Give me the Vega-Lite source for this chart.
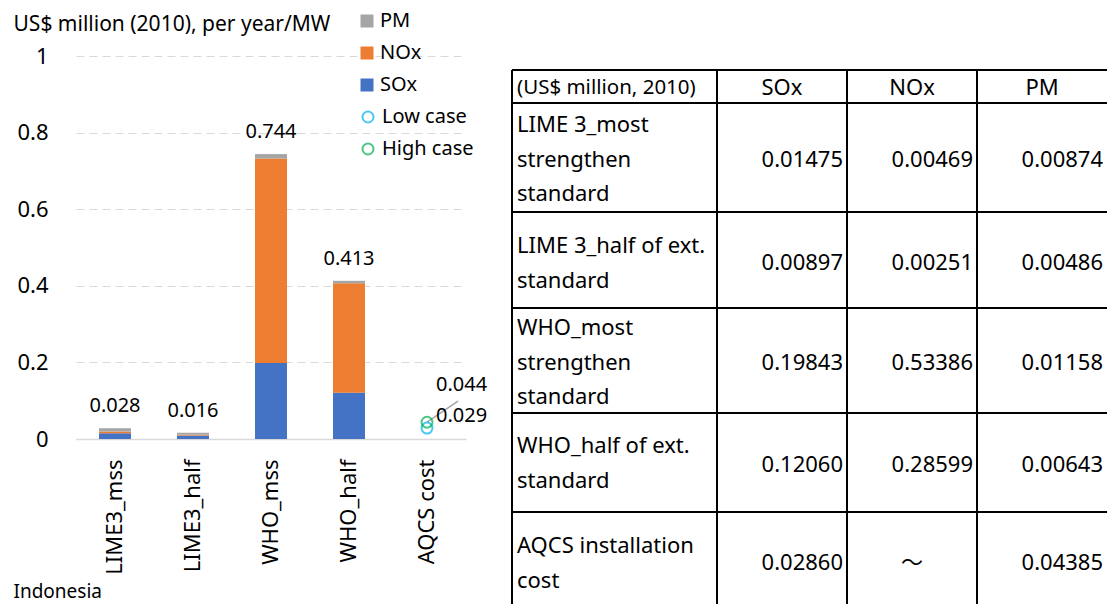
{
  "$schema": "https://vega.github.io/schema/vega-lite/v6.json",
  "background": "white",
  "padding": {"left": 13, "top": 11, "right": 0, "bottom": 0},
  "datasets": {
    "bars": [
      {"category": "LIME3_mss", "pollutant": "SOx", "value": 0.01475},
      {"category": "LIME3_mss", "pollutant": "NOx", "value": 0.00469},
      {"category": "LIME3_mss", "pollutant": "PM", "value": 0.00874},
      {"category": "LIME3_half", "pollutant": "SOx", "value": 0.00897},
      {"category": "LIME3_half", "pollutant": "NOx", "value": 0.00251},
      {"category": "LIME3_half", "pollutant": "PM", "value": 0.00486},
      {"category": "WHO_mss", "pollutant": "SOx", "value": 0.19843},
      {"category": "WHO_mss", "pollutant": "NOx", "value": 0.53386},
      {"category": "WHO_mss", "pollutant": "PM", "value": 0.01158},
      {"category": "WHO_half", "pollutant": "SOx", "value": 0.1206},
      {"category": "WHO_half", "pollutant": "NOx", "value": 0.28599},
      {"category": "WHO_half", "pollutant": "PM", "value": 0.00643}
    ],
    "pollutants": [
      {"pollutant": "SOx", "stackRank": 1},
      {"pollutant": "NOx", "stackRank": 2},
      {"pollutant": "PM", "stackRank": 3}
    ],
    "cases": [
      {"category": "AQCS cost", "scenario": "Low case", "value": 0.0286},
      {"category": "AQCS cost", "scenario": "High case", "value": 0.04385}
    ],
    "table": [
      {"row": "head", "col": "label", "text": "(US$ million, 2010)"},
      {"row": "head", "col": "SOx", "text": "SOx"},
      {"row": "head", "col": "NOx", "text": "NOx"},
      {"row": "head", "col": "PM", "text": "PM"},
      {"row": "r1", "col": "label", "text": "LIME 3_most\nstrengthen\nstandard"},
      {"row": "r1", "col": "SOx", "text": "0.01475"},
      {"row": "r1", "col": "NOx", "text": "0.00469"},
      {"row": "r1", "col": "PM", "text": "0.00874"},
      {"row": "r2", "col": "label", "text": "LIME 3_half of ext.\nstandard"},
      {"row": "r2", "col": "SOx", "text": "0.00897"},
      {"row": "r2", "col": "NOx", "text": "0.00251"},
      {"row": "r2", "col": "PM", "text": "0.00486"},
      {"row": "r3", "col": "label", "text": "WHO_most\nstrengthen\nstandard"},
      {"row": "r3", "col": "SOx", "text": "0.19843"},
      {"row": "r3", "col": "NOx", "text": "0.53386"},
      {"row": "r3", "col": "PM", "text": "0.01158"},
      {"row": "r4", "col": "label", "text": "WHO_half of ext.\nstandard"},
      {"row": "r4", "col": "SOx", "text": "0.12060"},
      {"row": "r4", "col": "NOx", "text": "0.28599"},
      {"row": "r4", "col": "PM", "text": "0.00643"},
      {"row": "r5", "col": "label", "text": "AQCS installation\ncost"},
      {"row": "r5", "col": "SOx", "text": "0.02860"},
      {"row": "r5", "col": "NOx", "text": "～"},
      {"row": "r5", "col": "PM", "text": "0.04385"}
    ]
  },
  "hconcat": [
    {
      "width": 390,
      "height": 383,
      "layer": [
        {
          "data": {"name": "bars"},
          "transform": [{"lookup": "pollutant", "from": {"data": {"name": "pollutants"}, "key": "pollutant", "fields": ["stackRank"]}}],
          "mark": {"type": "bar"},
          "encoding": {
            "x": {
              "field": "category", "type": "nominal",
              "sort": ["LIME3_mss", "LIME3_half", "WHO_mss", "WHO_half", "AQCS cost"],
              "scale": {"domain": ["LIME3_mss", "LIME3_half", "WHO_mss", "WHO_half", "AQCS cost"], "paddingInner": 0.59, "paddingOuter": 0.295},
              "axis": {
                "title": "Indonesia", "titleX": -63, "titleY": 158, "titleAlign": "left", "titleAnchor": "start",
                "titleBaseline": "alphabetic", "titleFontSize": 19, "titleFontWeight": "normal",
                "labelAngle": 270, "labelAlign": "right", "labelBaseline": "middle", "labelFontSize": 22,
                "labelPadding": 20, "ticks": false, "tickSize": 0, "domainColor": "#D9D9D9", "domainWidth": 1.5, "grid": false
              }
            },
            "y": {
              "field": "value", "type": "quantitative", "stack": "zero",
              "scale": {"domain": [0, 1]},
              "axis": {
                "title": "US$ million (2010), per year/MW", "titleAngle": 0, "titleX": -63, "titleY": -26,
                "titleAlign": "left", "titleBaseline": "alphabetic", "titleFontSize": 21, "titleFontWeight": "normal",
                "values": [0, 0.2, 0.4, 0.6, 0.8, 1], "format": "~g", "labelFontSize": 22, "labelPadding": 28,
                "ticks": false, "tickSize": 0, "domain": false, "grid": true, "gridColor": "#D9D9D9", "gridDash": [8, 5], "gridWidth": 1
              }
            },
            "fill": {
              "field": "pollutant", "type": "nominal",
              "scale": {"domain": ["PM", "NOx", "SOx"], "range": ["#A5A5A5", "#ED7D31", "#4472C4"]},
              "legend": {
                "orient": "none", "legendX": 281, "legendY": -45, "title": null, "symbolType": "square",
                "symbolSize": 169, "labelFontSize": 20, "labelOffset": 3, "rowPadding": 12, "padding": 0, "labelColor": "#000"
              }
            },
            "order": {"field": "stackRank", "type": "quantitative", "sort": "ascending"}
          }
        },
        {
          "data": {"name": "bars"},
          "mark": {"type": "text", "baseline": "middle", "dy": -22, "fontSize": 20, "color": "#000"},
          "encoding": {
            "x": {"field": "category", "type": "nominal"},
            "y": {"aggregate": "sum", "field": "value", "type": "quantitative"},
            "text": {"aggregate": "sum", "field": "value", "type": "quantitative", "format": ".3f"}
          }
        },
        {
          "data": {"name": "cases"},
          "transform": [{"filter": {"field": "scenario", "equal": "High case"}}],
          "mark": {"type": "rule", "color": "#A5A5A5", "strokeWidth": 1.5, "x2Offset": 31, "y2Offset": -21},
          "encoding": {
            "x": {"field": "category", "type": "nominal"},
            "x2": {"field": "category"},
            "y": {"field": "value", "type": "quantitative"},
            "y2": {"field": "value"}
          }
        },
        {
          "data": {"name": "cases"},
          "mark": {"type": "point", "shape": "circle", "filled": false, "size": 120, "strokeWidth": 2},
          "encoding": {
            "x": {"field": "category", "type": "nominal"},
            "y": {"field": "value", "type": "quantitative"},
            "stroke": {
              "field": "scenario", "type": "nominal",
              "scale": {"domain": ["Low case", "High case"], "range": ["#00B0F0", "#00B050"]},
              "legend": {
                "orient": "none", "legendX": 282, "legendY": 51, "title": null, "symbolType": "circle",
                "symbolSize": 120, "symbolStrokeWidth": 2, "labelFontSize": 20, "labelOffset": 4, "rowPadding": 12, "padding": 0, "labelColor": "#000"
              }
            }
          }
        },
        {
          "data": {"name": "cases"},
          "transform": [{"filter": {"field": "scenario", "equal": "Low case"}}],
          "mark": {"type": "text", "align": "left", "baseline": "middle", "dx": 9, "dy": -12, "fontSize": 20, "color": "#000"},
          "encoding": {
            "x": {"field": "category", "type": "nominal"},
            "y": {"field": "value", "type": "quantitative"},
            "text": {"field": "value", "type": "quantitative", "format": ".3f"}
          }
        },
        {
          "data": {"name": "cases"},
          "transform": [{"filter": {"field": "scenario", "equal": "High case"}}],
          "mark": {"type": "text", "align": "left", "baseline": "middle", "dx": 9, "dy": -37, "fontSize": 20, "color": "#000"},
          "encoding": {
            "x": {"field": "category", "type": "nominal"},
            "y": {"field": "value", "type": "quantitative"},
            "text": {"field": "value", "type": "quantitative", "format": ".3f"}
          }
        }
      ]
    },
    {
      "spacing": 0,
      "bounds": "flush",
      "vconcat": [
        {"width": 595, "height": 14, "data": {"values": [{}]}, "mark": {"type": "text"}, "encoding": {}},
        {
          "width": 595, "height": 33, "data": {"name": "table"},
          "transform": [{"filter": {"field": "row", "equal": "head"}}],
          "resolve": {"scale": {"x": "independent"}},
          "layer": [
            {"transform": [{"filter": {"field": "col", "equal": "label"}}],
             "mark": {"type": "text", "align": "left", "baseline": "middle", "dx": -97.5, "dy": 1, "fontSize": 20.5, "color": "#000"},
             "encoding": {"x": {"field": "col", "type": "nominal", "axis": null, "scale": {"domain": ["label"], "range": [0, 205], "paddingInner": 0, "paddingOuter": 0}},
                          "y": {"field": "row", "type": "nominal", "axis": null, "scale": {"paddingInner": 0, "paddingOuter": 0}},
                          "text": {"field": "text"}}},
            {"transform": [{"filter": {"field": "col", "oneOf": ["SOx", "NOx", "PM"]}}],
             "mark": {"type": "text", "align": "center", "baseline": "middle", "dy": 1, "fontSize": 22, "color": "#000"},
             "encoding": {"x": {"field": "col", "type": "nominal", "axis": null, "scale": {"domain": ["SOx", "NOx", "PM"], "range": [205, 595], "paddingInner": 0, "paddingOuter": 0}},
                          "y": {"field": "row", "type": "nominal", "axis": null},
                          "text": {"field": "text"}}},
            {"transform": [{"filter": {"field": "col", "equal": "label"}}],
             "mark": {"type": "rule", "color": "#000", "strokeWidth": 2},
             "encoding": {"x": {"field": "col", "type": "nominal", "bandPosition": 0, "axis": null, "scale": {"domain": ["label"], "range": [0, 205], "paddingInner": 0, "paddingOuter": 0}}}},
            {"transform": [{"filter": {"field": "col", "oneOf": ["SOx", "NOx", "PM"]}}],
             "mark": {"type": "rule", "color": "#000", "strokeWidth": 2},
             "encoding": {"x": {"field": "col", "type": "nominal", "bandPosition": 0, "axis": null, "scale": {"domain": ["SOx", "NOx", "PM"], "range": [205, 595], "paddingInner": 0, "paddingOuter": 0}}}},
            {"mark": {"type": "rule", "color": "#000", "strokeWidth": 2},
             "encoding": {"y": {"field": "row", "type": "nominal", "bandPosition": 0, "axis": null}}}
          ]
        },
        {
          "width": 595, "height": 109, "data": {"name": "table"},
          "transform": [{"filter": {"field": "row", "equal": "r1"}}],
          "resolve": {"scale": {"x": "independent"}},
          "layer": [
            {"transform": [{"filter": {"field": "col", "equal": "label"}}],
             "mark": {"type": "text", "align": "left", "baseline": "middle", "dx": -97.5, "dy": -32.5, "fontSize": 22, "color": "#000", "lineBreak": "\n", "lineHeight": 34.5},
             "encoding": {"x": {"field": "col", "type": "nominal", "axis": null, "scale": {"domain": ["label"], "range": [0, 205], "paddingInner": 0, "paddingOuter": 0}},
                          "y": {"field": "row", "type": "nominal", "axis": null, "scale": {"paddingInner": 0, "paddingOuter": 0}},
                          "text": {"field": "text"}}},
            {"transform": [{"filter": {"field": "col", "oneOf": ["SOx", "NOx", "PM"]}}],
             "mark": {"type": "text", "align": "right", "baseline": "middle", "dx": 61, "dy": 2, "fontSize": 22, "color": "#000"},
             "encoding": {"x": {"field": "col", "type": "nominal", "axis": null, "scale": {"domain": ["SOx", "NOx", "PM"], "range": [205, 595], "paddingInner": 0, "paddingOuter": 0}},
                          "y": {"field": "row", "type": "nominal", "axis": null},
                          "text": {"field": "text"}}},
            {"transform": [{"filter": {"field": "col", "equal": "label"}}],
             "mark": {"type": "rule", "color": "#000", "strokeWidth": 2},
             "encoding": {"x": {"field": "col", "type": "nominal", "bandPosition": 0, "axis": null, "scale": {"domain": ["label"], "range": [0, 205], "paddingInner": 0, "paddingOuter": 0}}}},
            {"transform": [{"filter": {"field": "col", "oneOf": ["SOx", "NOx", "PM"]}}],
             "mark": {"type": "rule", "color": "#000", "strokeWidth": 2},
             "encoding": {"x": {"field": "col", "type": "nominal", "bandPosition": 0, "axis": null, "scale": {"domain": ["SOx", "NOx", "PM"], "range": [205, 595], "paddingInner": 0, "paddingOuter": 0}}}},
            {"mark": {"type": "rule", "color": "#000", "strokeWidth": 2},
             "encoding": {"y": {"field": "row", "type": "nominal", "bandPosition": 0, "axis": null}}}
          ]
        },
        {
          "width": 595, "height": 96, "data": {"name": "table"},
          "transform": [{"filter": {"field": "row", "equal": "r2"}}],
          "resolve": {"scale": {"x": "independent"}},
          "layer": [
            {"transform": [{"filter": {"field": "col", "equal": "label"}}],
             "mark": {"type": "text", "align": "left", "baseline": "middle", "dx": -97.5, "dy": -14, "fontSize": 22, "color": "#000", "lineBreak": "\n", "lineHeight": 34.5},
             "encoding": {"x": {"field": "col", "type": "nominal", "axis": null, "scale": {"domain": ["label"], "range": [0, 205], "paddingInner": 0, "paddingOuter": 0}},
                          "y": {"field": "row", "type": "nominal", "axis": null, "scale": {"paddingInner": 0, "paddingOuter": 0}},
                          "text": {"field": "text"}}},
            {"transform": [{"filter": {"field": "col", "oneOf": ["SOx", "NOx", "PM"]}}],
             "mark": {"type": "text", "align": "right", "baseline": "middle", "dx": 61, "dy": 3, "fontSize": 22, "color": "#000"},
             "encoding": {"x": {"field": "col", "type": "nominal", "axis": null, "scale": {"domain": ["SOx", "NOx", "PM"], "range": [205, 595], "paddingInner": 0, "paddingOuter": 0}},
                          "y": {"field": "row", "type": "nominal", "axis": null},
                          "text": {"field": "text"}}},
            {"transform": [{"filter": {"field": "col", "equal": "label"}}],
             "mark": {"type": "rule", "color": "#000", "strokeWidth": 2},
             "encoding": {"x": {"field": "col", "type": "nominal", "bandPosition": 0, "axis": null, "scale": {"domain": ["label"], "range": [0, 205], "paddingInner": 0, "paddingOuter": 0}}}},
            {"transform": [{"filter": {"field": "col", "oneOf": ["SOx", "NOx", "PM"]}}],
             "mark": {"type": "rule", "color": "#000", "strokeWidth": 2},
             "encoding": {"x": {"field": "col", "type": "nominal", "bandPosition": 0, "axis": null, "scale": {"domain": ["SOx", "NOx", "PM"], "range": [205, 595], "paddingInner": 0, "paddingOuter": 0}}}},
            {"mark": {"type": "rule", "color": "#000", "strokeWidth": 2},
             "encoding": {"y": {"field": "row", "type": "nominal", "bandPosition": 0, "axis": null}}}
          ]
        },
        {
          "width": 595, "height": 105, "data": {"name": "table"},
          "transform": [{"filter": {"field": "row", "equal": "r3"}}],
          "resolve": {"scale": {"x": "independent"}},
          "layer": [
            {"transform": [{"filter": {"field": "col", "equal": "label"}}],
             "mark": {"type": "text", "align": "left", "baseline": "middle", "dx": -97.5, "dy": -32.5, "fontSize": 22, "color": "#000", "lineBreak": "\n", "lineHeight": 34.5},
             "encoding": {"x": {"field": "col", "type": "nominal", "axis": null, "scale": {"domain": ["label"], "range": [0, 205], "paddingInner": 0, "paddingOuter": 0}},
                          "y": {"field": "row", "type": "nominal", "axis": null, "scale": {"paddingInner": 0, "paddingOuter": 0}},
                          "text": {"field": "text"}}},
            {"transform": [{"filter": {"field": "col", "oneOf": ["SOx", "NOx", "PM"]}}],
             "mark": {"type": "text", "align": "right", "baseline": "middle", "dx": 61, "dy": 2, "fontSize": 22, "color": "#000"},
             "encoding": {"x": {"field": "col", "type": "nominal", "axis": null, "scale": {"domain": ["SOx", "NOx", "PM"], "range": [205, 595], "paddingInner": 0, "paddingOuter": 0}},
                          "y": {"field": "row", "type": "nominal", "axis": null},
                          "text": {"field": "text"}}},
            {"transform": [{"filter": {"field": "col", "equal": "label"}}],
             "mark": {"type": "rule", "color": "#000", "strokeWidth": 2},
             "encoding": {"x": {"field": "col", "type": "nominal", "bandPosition": 0, "axis": null, "scale": {"domain": ["label"], "range": [0, 205], "paddingInner": 0, "paddingOuter": 0}}}},
            {"transform": [{"filter": {"field": "col", "oneOf": ["SOx", "NOx", "PM"]}}],
             "mark": {"type": "rule", "color": "#000", "strokeWidth": 2},
             "encoding": {"x": {"field": "col", "type": "nominal", "bandPosition": 0, "axis": null, "scale": {"domain": ["SOx", "NOx", "PM"], "range": [205, 595], "paddingInner": 0, "paddingOuter": 0}}}},
            {"mark": {"type": "rule", "color": "#000", "strokeWidth": 2},
             "encoding": {"y": {"field": "row", "type": "nominal", "bandPosition": 0, "axis": null}}}
          ]
        },
        {
          "width": 595, "height": 99, "data": {"name": "table"},
          "transform": [{"filter": {"field": "row", "equal": "r4"}}],
          "resolve": {"scale": {"x": "independent"}},
          "layer": [
            {"transform": [{"filter": {"field": "col", "equal": "label"}}],
             "mark": {"type": "text", "align": "left", "baseline": "middle", "dx": -97.5, "dy": -16.5, "fontSize": 22, "color": "#000", "lineBreak": "\n", "lineHeight": 34.5},
             "encoding": {"x": {"field": "col", "type": "nominal", "axis": null, "scale": {"domain": ["label"], "range": [0, 205], "paddingInner": 0, "paddingOuter": 0}},
                          "y": {"field": "row", "type": "nominal", "axis": null, "scale": {"paddingInner": 0, "paddingOuter": 0}},
                          "text": {"field": "text"}}},
            {"transform": [{"filter": {"field": "col", "oneOf": ["SOx", "NOx", "PM"]}}],
             "mark": {"type": "text", "align": "right", "baseline": "middle", "dx": 61, "dy": 2, "fontSize": 22, "color": "#000"},
             "encoding": {"x": {"field": "col", "type": "nominal", "axis": null, "scale": {"domain": ["SOx", "NOx", "PM"], "range": [205, 595], "paddingInner": 0, "paddingOuter": 0}},
                          "y": {"field": "row", "type": "nominal", "axis": null},
                          "text": {"field": "text"}}},
            {"transform": [{"filter": {"field": "col", "equal": "label"}}],
             "mark": {"type": "rule", "color": "#000", "strokeWidth": 2},
             "encoding": {"x": {"field": "col", "type": "nominal", "bandPosition": 0, "axis": null, "scale": {"domain": ["label"], "range": [0, 205], "paddingInner": 0, "paddingOuter": 0}}}},
            {"transform": [{"filter": {"field": "col", "oneOf": ["SOx", "NOx", "PM"]}}],
             "mark": {"type": "rule", "color": "#000", "strokeWidth": 2},
             "encoding": {"x": {"field": "col", "type": "nominal", "bandPosition": 0, "axis": null, "scale": {"domain": ["SOx", "NOx", "PM"], "range": [205, 595], "paddingInner": 0, "paddingOuter": 0}}}},
            {"mark": {"type": "rule", "color": "#000", "strokeWidth": 2},
             "encoding": {"y": {"field": "row", "type": "nominal", "bandPosition": 0, "axis": null}}}
          ]
        },
        {
          "width": 595, "height": 92, "data": {"name": "table"},
          "transform": [{"filter": {"field": "row", "equal": "r5"}}],
          "resolve": {"scale": {"x": "independent"}},
          "layer": [
            {"transform": [{"filter": {"field": "col", "equal": "label"}}],
             "mark": {"type": "text", "align": "left", "baseline": "middle", "dx": -97.5, "dy": -12, "fontSize": 22, "color": "#000", "lineBreak": "\n", "lineHeight": 34.5},
             "encoding": {"x": {"field": "col", "type": "nominal", "axis": null, "scale": {"domain": ["label"], "range": [0, 205], "paddingInner": 0, "paddingOuter": 0}},
                          "y": {"field": "row", "type": "nominal", "axis": null, "scale": {"paddingInner": 0, "paddingOuter": 0}},
                          "text": {"field": "text"}}},
            {"transform": [{"filter": {"field": "col", "oneOf": ["SOx", "PM"]}}],
             "mark": {"type": "text", "align": "right", "baseline": "middle", "dx": 61, "dy": 5, "fontSize": 22, "color": "#000"},
             "encoding": {"x": {"field": "col", "type": "nominal", "axis": null, "scale": {"domain": ["SOx", "NOx", "PM"], "range": [205, 595], "paddingInner": 0, "paddingOuter": 0}},
                          "y": {"field": "row", "type": "nominal", "axis": null},
                          "text": {"field": "text"}}},
            {"transform": [{"filter": {"field": "col", "equal": "NOx"}}],
             "mark": {"type": "text", "align": "center", "baseline": "middle", "dy": 5, "fontSize": 22, "color": "#000", "font": "Noto Sans CJK JP"},
             "encoding": {"x": {"field": "col", "type": "nominal", "axis": null, "scale": {"domain": ["SOx", "NOx", "PM"], "range": [205, 595], "paddingInner": 0, "paddingOuter": 0}},
                          "y": {"field": "row", "type": "nominal", "axis": null},
                          "text": {"field": "text"}}},
            {"transform": [{"filter": {"field": "col", "equal": "label"}}],
             "mark": {"type": "rule", "color": "#000", "strokeWidth": 2},
             "encoding": {"x": {"field": "col", "type": "nominal", "bandPosition": 0, "axis": null, "scale": {"domain": ["label"], "range": [0, 205], "paddingInner": 0, "paddingOuter": 0}}}},
            {"transform": [{"filter": {"field": "col", "oneOf": ["SOx", "NOx", "PM"]}}],
             "mark": {"type": "rule", "color": "#000", "strokeWidth": 2},
             "encoding": {"x": {"field": "col", "type": "nominal", "bandPosition": 0, "axis": null, "scale": {"domain": ["SOx", "NOx", "PM"], "range": [205, 595], "paddingInner": 0, "paddingOuter": 0}}}},
            {"mark": {"type": "rule", "color": "#000", "strokeWidth": 2},
             "encoding": {"y": {"field": "row", "type": "nominal", "bandPosition": 0, "axis": null}}}
          ]
        }
      ]
    }
  ],
  "spacing": 46,
  "bounds": "flush",
  "config": {
    "view": {"stroke": null},
    "font": "Noto Sans",
    "text": {"font": "Noto Sans"},
    "axis": {"labelFont": "Noto Sans", "titleFont": "Noto Sans", "labelColor": "#000", "titleColor": "#000"},
    "legend": {"labelFont": "Noto Sans"}
  }
}
